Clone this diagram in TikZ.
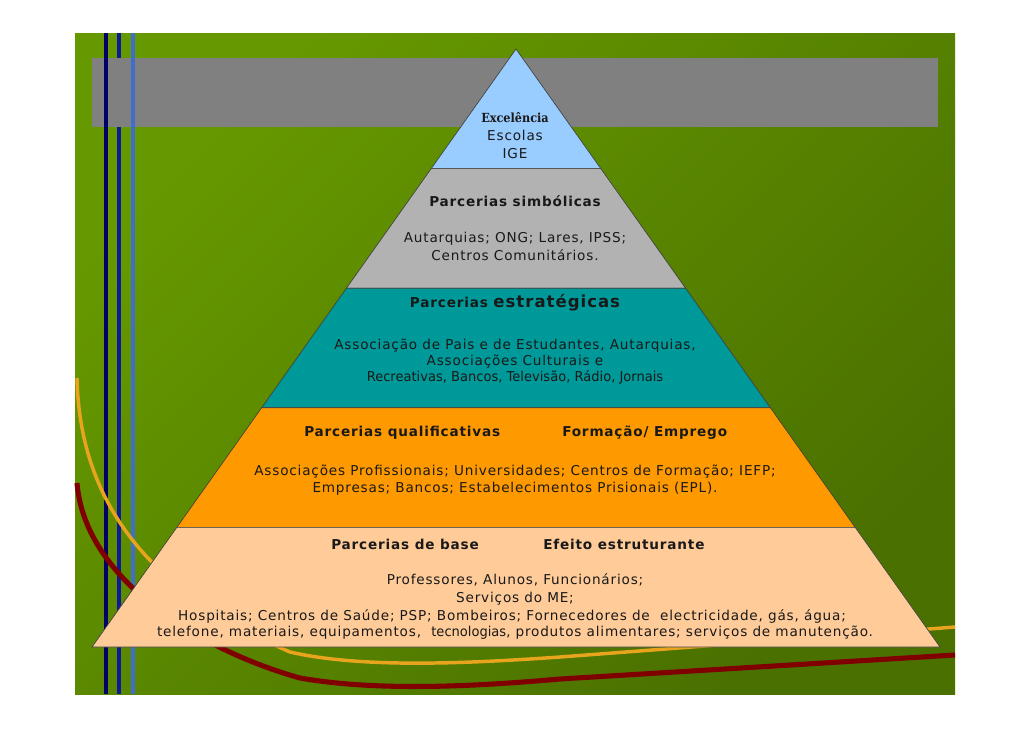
\documentclass[tikz,border=0pt]{standalone}
\usepackage{fontspec}
\setmainfont{DejaVu Sans}[LetterSpace=6]
\newfontfamily\condfont{DejaVu Sans}[FakeStretch=0.96]
\newfontfamily\excfont{DejaVu Serif}[FakeStretch=0.9]
\usetikzlibrary{calc}

\definecolor{slidetop}{HTML}{669900}
\definecolor{slidebot}{HTML}{4A7000}
\definecolor{band}{HTML}{808080}
\definecolor{navyA}{HTML}{000066}
\definecolor{navyB}{HTML}{0A1A99}
\definecolor{skyline}{HTML}{3F6FCB}
\definecolor{goldcurve}{HTML}{E9A41D}
\definecolor{redcurve}{HTML}{800000}
\definecolor{excel}{HTML}{99CCFF}
\definecolor{simb}{HTML}{B2B2B2}
\definecolor{estr}{HTML}{009999}
\definecolor{qual}{HTML}{FF9900}
\definecolor{layerbase}{HTML}{FFCC99}

\begin{document}
\begin{tikzpicture}[x=0.75pt, y=-0.75pt,
    body/.style={anchor=base, inner sep=0pt, text=black!90, font=\fontsize{10.2}{12}\selectfont},
    head/.style={anchor=base, inner sep=0pt, text=black!90, font=\fontsize{10.2}{12}\selectfont\bfseries},
    layer/.style={draw=black!75, line width=0.5pt}]
  \useasboundingbox (0,0) rectangle (1030,728);

  % slide background
  \shade[top color=slidetop, bottom color=slidebot, shading angle=45] (75,33) rectangle (955,694);
  \draw[navyB, line width=2.6pt] (119,33) -- (119,58);
  \draw[navyB, line width=2.6pt] (119,127) -- (119,694);
  \fill[band] (92,58) rectangle (938,127);
  \draw[navyA, line width=3.3pt] (106,33) -- (106,694);
  \draw[skyline, line width=2.6pt] (133,33) -- (133,694);

  % curves
  \draw[goldcurve, line width=2.6pt] (77,378) .. controls (80,520) and (170,600) .. (290,652)
    .. controls (360,668) and (460,664) .. (560,657) -- (955,627);
  \draw[redcurve, line width=3.8pt] (77,483) .. controls (85,580) and (200,650) .. (300,678)
    .. controls (380,692) and (480,686) .. (560,679) -- (955,655);

  % pyramid
  \coordinate (apex) at (516,49);
  \coordinate (bl) at (92,647);
  \coordinate (br) at (940,647);
  \foreach \a/\b/\c in {0/0.2/excel, 0.2/0.4/simb, 0.4/0.6/estr, 0.6/0.8/qual, 0.8/1/layerbase}
    \filldraw[layer, fill=\c] ($(apex)!\a!(bl)$) -- ($(apex)!\b!(bl)$) -- ($(apex)!\b!(br)$) -- ($(apex)!\a!(br)$) -- cycle;

  % top
  \node (exc) at (515,122) [body, font=\excfont\fontsize{9.4}{11}\selectfont\bfseries] {Excelência};
  \node (esc) at (515,140.7) [body] {Escolas};
  \node (ige) at (515,158) [body] {IGE};

  % simbolicas
  \node (simbh) at (515,206.7) [head] {Parcerias simbólicas};
  \node (simb1) at (515,242.7) [body] {Autarquias; ONG; Lares, IPSS;};
  \node (simb2) at (515,260.7) [body] {Centros Comunitários.};

  % estrategicas
  \node (estrh) at (515,307) [head] {Parcerias {\fontsize{12.4}{14}\selectfont estratégicas}};
  \node (estr1) at (515,349.3) [body] {Associação de Pais e de Estudantes, Autarquias,};
  \node (estr2) at (515,365) [body] {Associações Culturais e};
  \node (estr3) at (515,381.7) [body, font=\condfont\fontsize{10.2}{12}\selectfont] {Recreativas, Bancos, Televisão, Rádio, Jornais};

  % qualificativas
  \node (qualh) at (304,436.7) [head, anchor=base west] {Parcerias qualificativas};
  \node (qualf) at (562,436.7) [head, anchor=base west] {Formação/ Emprego};
  \node (qual1) at (515,475) [body] {Associações Profissionais; Universidades; Centros de Formação; IEFP;};
  \node (qual2) at (515,492.3) [body] {Empresas; Bancos; Estabelecimentos Prisionais (EPL).};

  % base
  \node (baseh) at (331,549) [head, anchor=base west] {Parcerias de base};
  \node (basef) at (543,549) [head, anchor=base west] {Efeito estruturante};
  \node (base1) at (515,584) [body] {Professores, Alunos, Funcionários;};
  \node (base2) at (515,602) [body] {Serviços do ME;};
  \node (base3) at (512,620) [body] {Hospitais; Centros de Saúde; PSP; Bombeiros; Fornecedores de~ electricidade, gás, água;};
  \node (base4) at (515,636.7) [body] {telefone, materiais, equipamentos,~ {\condfont tecnologias,} produtos alimentares; serviços de manutenção.};
\end{tikzpicture}
\end{document}
